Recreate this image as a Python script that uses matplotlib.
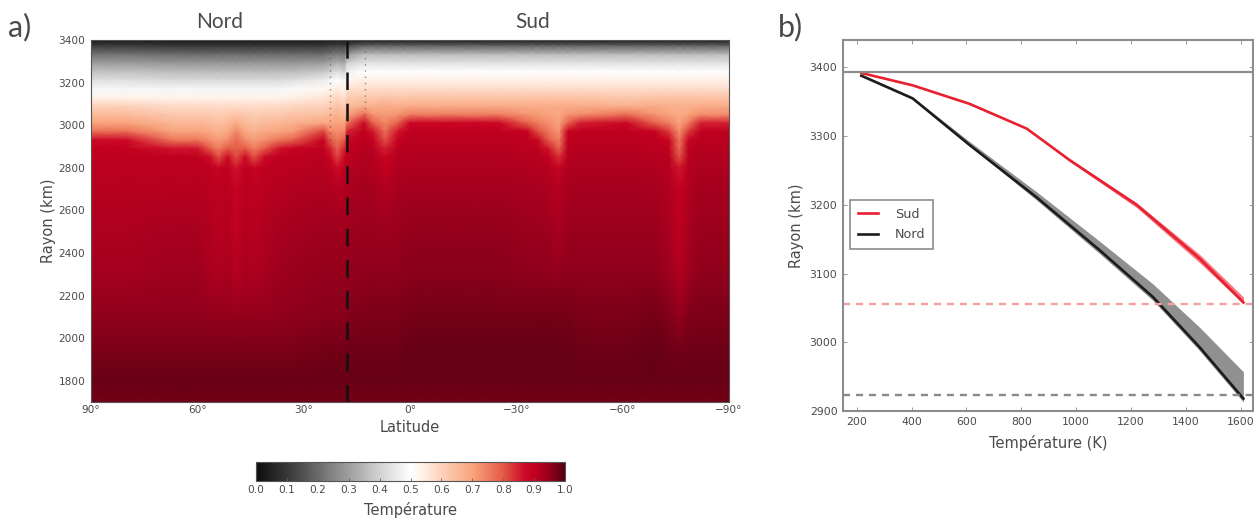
import numpy as np
import matplotlib
matplotlib.use("Agg")
import matplotlib.pyplot as plt
from matplotlib.colors import LinearSegmentedColormap

W, H = 1254, 525

# ---- panel a data: temperature read per latitude column ----
radius = [3400, 3370, 3330, 3290, 3250, 3210, 3170, 3130, 3090, 3050, 3010, 2970,
          2930, 2890, 2850, 2800, 2700, 2500, 2300, 2100, 1950, 1800, 1700]
n_edge  = [.03, .12, .22, .30, .37, .43, .48, .53, .60, .65, .70, .77, .87, .90, .905, .91, .915, .925, .935, .955, .97, .985, .975]
n_mid   = [.03, .11, .21, .29, .36, .42, .48, .53, .58, .62, .66, .70, .76, .86, .905, .91, .915, .93, .94, .955, .97, .985, .975]
n_sho   = [.03, .11, .21, .29, .36, .42, .48, .53, .58, .62, .65, .69, .73, .80, .87, .905, .912, .92, .93, .95, .97, .985, .975]
n_arm   = [.03, .11, .21, .29, .36, .42, .48, .53, .58, .61, .64, .67, .71, .75, .81, .885, .905, .912, .925, .95, .97, .985, .975]
n_plume = [.03, .11, .21, .29, .36, .42, .48, .53, .58, .63, .68, .74, .78, .79, .81, .86, .89, .90, .915, .95, .97, .985, .975]
n_east  = [.03, .11, .21, .29, .36, .43, .49, .54, .59, .63, .67, .71, .79, .89, .905, .91, .92, .935, .945, .955, .97, .985, .975]
n_rise  = [.03, .11, .21, .30, .38, .46, .52, .56, .60, .64, .69, .82, .89, .905, .91, .915, .925, .94, .95, .96, .975, .985, .975]
sho_2   = [.03, .12, .23, .32, .40, .48, .53, .57, .61, .65, .69, .74, .80, .85, .885, .905, .92, .94, .95, .96, .975, .985, .975]
plume_2 = [.03, .13, .24, .34, .43, .50, .55, .59, .63, .67, .70, .73, .76, .79, .82, .87, .915, .94, .95, .96, .975, .985, .975]
divide  = [.03, .15, .30, .40, .47, .52, .57, .61, .65, .69, .76, .85, .885, .90, .905, .915, .925, .94, .95, .965, .98, .985, .975]
s_high  = [.03, .20, .36, .44, .50, .54, .58, .62, .67, .77, .88, .905, .91, .915, .92, .925, .935, .945, .955, .97, .98, .985, .975]
sho_3   = [.03, .20, .36, .44, .50, .54, .58, .62, .67, .72, .79, .86, .895, .91, .915, .92, .93, .945, .955, .97, .98, .985, .975]
plume_3 = [.03, .20, .36, .44, .50, .54, .58, .63, .68, .71, .74, .77, .81, .85, .885, .90, .92, .94, .955, .97, .98, .985, .975]
s_flat  = [.03, .20, .36, .44, .50, .54, .58, .63, .68, .75, .88, .905, .91, .915, .92, .925, .935, .95, .96, .975, .985, .985, .975]
s_low   = [.03, .20, .36, .44, .50, .54, .58, .63, .68, .72, .79, .895, .905, .91, .915, .92, .93, .945, .955, .975, .985, .985, .975]
s_swp1  = [.03, .20, .36, .44, .50, .54, .58, .63, .68, .71, .75, .81, .885, .905, .915, .92, .93, .945, .955, .975, .985, .985, .975]
s_swp2  = [.03, .20, .36, .44, .50, .54, .58, .63, .68, .70, .73, .76, .80, .86, .90, .915, .925, .94, .955, .975, .985, .985, .975]
plume_4 = [.03, .20, .36, .44, .50, .54, .58, .63, .68, .69, .70, .72, .75, .79, .84, .89, .915, .93, .95, .975, .985, .985, .975]
s_mid   = [.03, .20, .36, .44, .50, .54, .58, .63, .68, .73, .85, .905, .91, .915, .92, .925, .935, .945, .955, .97, .98, .985, .975]
s_swp3  = [.03, .20, .36, .44, .50, .54, .58, .63, .67, .70, .75, .83, .89, .905, .91, .915, .92, .93, .94, .965, .98, .985, .975]
plume_5 = [.03, .20, .36, .44, .50, .54, .58, .63, .67, .68, .70, .73, .76, .78, .81, .86, .895, .905, .92, .95, .975, .985, .975]

column_lat = [90, 80, 67, 60, 56.5, 54, 51.5, 49, 46.5, 44, 41, 37, 33, 24.5, 22.5, 20.5, 18.5, 17.8, 13, 10.5, 7, 3.5, 0,
              -11, -25, -33, -36, -39, -42, -44.5, -48, -61, -69, -73, -76, -78.5, -82, -90]
columns = [n_edge, n_edge, n_mid, n_mid, n_sho, n_arm, n_sho, n_plume, n_sho, n_arm, n_sho, n_mid, n_east, n_rise,
           sho_2, plume_2, sho_2, divide, s_high, sho_3, plume_3, sho_3, s_flat,
           s_flat, s_flat, s_low, s_swp1, s_swp2, plume_4, s_low, s_mid, s_high, s_low, s_swp3,
           plume_5, s_swp3, s_mid, s_mid]

colour_stops = [0.0, 0.12, 0.25, 0.4, 0.5, 0.54, 0.6, 0.7, 0.8, 0.87, 0.9, 0.93, 0.96, 0.985, 1.0]
colour_list = ['#0c0c0c', '#404040', '#858585', '#d2d2d2', '#ffffff', '#fff0e6', '#fdd2bb',
               '#f9a47c', '#e45a45', '#cc0a28', '#c4001f', '#aa001f', '#8a001a', '#680016', '#4f0010']

lat_ticks = [90, 60, 30, 0, -30, -60, -90]
lat_labels = ['90°', '60°', '30°', '0°', '−30°', '−60°', '−90°']
radius_ticks = [1800, 2000, 2200, 2400, 2600, 2800, 3000, 3200, 3400]
cb_ticks = [0.0, 0.1, 0.2, 0.3, 0.4, 0.5, 0.6, 0.7, 0.8, 0.9, 1.0]
divide_lat = 17.8
dotted_lat = [22.6, 12.7]
dotted_floor = [2930, 3050]

# ---- panel b data ----
sud_T = [217, 404, 612, 820, 977, 1221, 1450, 1610]
sud_r = [3392, 3374, 3347, 3311, 3265, 3200, 3122, 3058]
sud_lo = [3392, 3374, 3346, 3310, 3263, 3196, 3116, 3056]
sud_hi = [3393, 3375, 3348, 3312, 3267, 3203, 3128, 3066]
nord_T = [217, 404, 612, 856, 1086, 1280, 1450, 1610]
nord_r = [3388, 3355, 3287, 3211, 3134, 3066, 2993, 2918]
nord_lo = [3388, 3354, 3286, 3207, 3129, 3061, 2988, 2913]
nord_hi = [3390, 3357, 3292, 3219, 3147, 3085, 3022, 2957]
surface_r = 3393
sud_base = 3056
nord_base = 2923
T_ticks = [200, 400, 600, 800, 1000, 1200, 1400, 1600]
r_ticks = [2900, 3000, 3100, 3200, 3300, 3400]

TEXT = '#4a4a4a'
SPINE = '#8c8c8c'
plt.rcParams['font.family'] = ['DejaVu Sans']

def box(x0, y0, x1, y1):
    return [x0 / W, 1 - y1 / H, (x1 - x0) / W, (y1 - y0) / H]

fig = plt.figure(figsize=(W / 100, H / 100), dpi=100)

# ---- panel a ----
ax = fig.add_axes(box(91, 40, 729, 402))
cmap = LinearSegmentedColormap.from_list('temp', list(zip(colour_stops, colour_list)), N=512)
field = np.array(columns).T
order = np.argsort(column_lat)
mesh = ax.pcolormesh(np.array(column_lat)[order], radius, field[:, order],
                     shading='gouraud', cmap=cmap, vmin=0, vmax=1, rasterized=True)
ax.set_xlim(90, -90)
ax.set_ylim(1700, 3400)
ax.set_xticks(lat_ticks, lat_labels)
ax.set_yticks(radius_ticks)
ax.tick_params(length=0, labelsize=7.6, colors=TEXT, pad=4)
ax.tick_params(axis='x', pad=2.5)
ax.set_xlabel('Latitude', fontsize=10.5, color=TEXT, labelpad=3)
ax.set_ylabel('Rayon (km)', fontsize=10.5, color=TEXT, labelpad=2)
for s in ax.spines.values():
    s.set_color('#555555')
    s.set_linewidth(0.8)
ax.axvline(divide_lat, color='#111111', lw=1.8, dashes=(7, 5.5))
for la, fl in zip(dotted_lat, dotted_floor):
    ax.plot([la, la], [fl, 3400], color='#555555', lw=1, ls=(0, (1, 3.5)), alpha=0.65)

fig.text(220 / W, 1 - 22 / H, 'Nord', ha='center', va='center', fontsize=15, color=TEXT, family='Lato')
fig.text(533 / W, 1 - 22 / H, 'Sud', ha='center', va='center', fontsize=15, color=TEXT, family='Lato')
fig.text(20 / W, 1 - 27 / H, 'a)', ha='center', va='center', fontsize=22, color=TEXT, family='Lato')
fig.text(790 / W, 1 - 27 / H, 'b)', ha='center', va='center', fontsize=22, color=TEXT, family='Lato')

# ---- colour bar ----
cax = fig.add_axes(box(256, 462, 565, 481))
cb = fig.colorbar(mesh, cax=cax, orientation='horizontal', ticks=cb_ticks)
cb.ax.tick_params(direction='in', length=2, width=0.6, color='#666666', labelsize=7.6,
                  labelcolor=TEXT, pad=3)
cb.set_label('Température', fontsize=10.5, color=TEXT, labelpad=5)
cb.outline.set_edgecolor('#555555')
cb.outline.set_linewidth(0.8)

# ---- panel b ----
bx = fig.add_axes(box(843, 40, 1253, 411))
bx.fill_between(nord_T, nord_lo, nord_hi, color='#555555', alpha=0.65, lw=0)
bx.fill_between(sud_T, sud_lo, sud_hi, color='#f03040', alpha=0.65, lw=0)
bx.plot(sud_T, sud_r, color='#e8202f', lw=1.9, label='Sud')
bx.plot(nord_T, nord_r, color='#1c1c1c', lw=1.9, label='Nord')
bx.axhline(surface_r, color='#8c8c8c', lw=1.6)
bx.axhline(sud_base, color='#f4a0a0', lw=1.7, dashes=(3, 2.5))
bx.axhline(nord_base, color='#8a8a8a', lw=1.7, dashes=(3, 2.5))
bx.set_xlim(150, 1645)
bx.set_ylim(2900, 3440)
bx.set_xticks(T_ticks)
bx.set_yticks(r_ticks)
bx.tick_params(direction='in', length=3, width=0.7, color='#999999', labelsize=7.8,
               labelcolor=TEXT, top=True, right=True, pad=4)
bx.set_xlabel('Température (K)', fontsize=10.5, color=TEXT, labelpad=6)
bx.set_ylabel('Rayon (km)', fontsize=10.5, color=TEXT, labelpad=4)
for s in bx.spines.values():
    s.set_color(SPINE)
    s.set_linewidth(1.5)
leg = bx.legend(loc='upper left', bbox_to_anchor=((850 - 843) / 410, 1 - (200 - 40) / 371),
                borderaxespad=0, fontsize=9.2, fancybox=False, framealpha=1,
                edgecolor=SPINE, borderpad=0.6, labelspacing=0.6, handlelength=1.6,
                handletextpad=1.3)
leg.get_frame().set_linewidth(1.2)
for t in leg.get_texts():
    t.set_color(TEXT)

fig.savefig('out.png', dpi=100)
